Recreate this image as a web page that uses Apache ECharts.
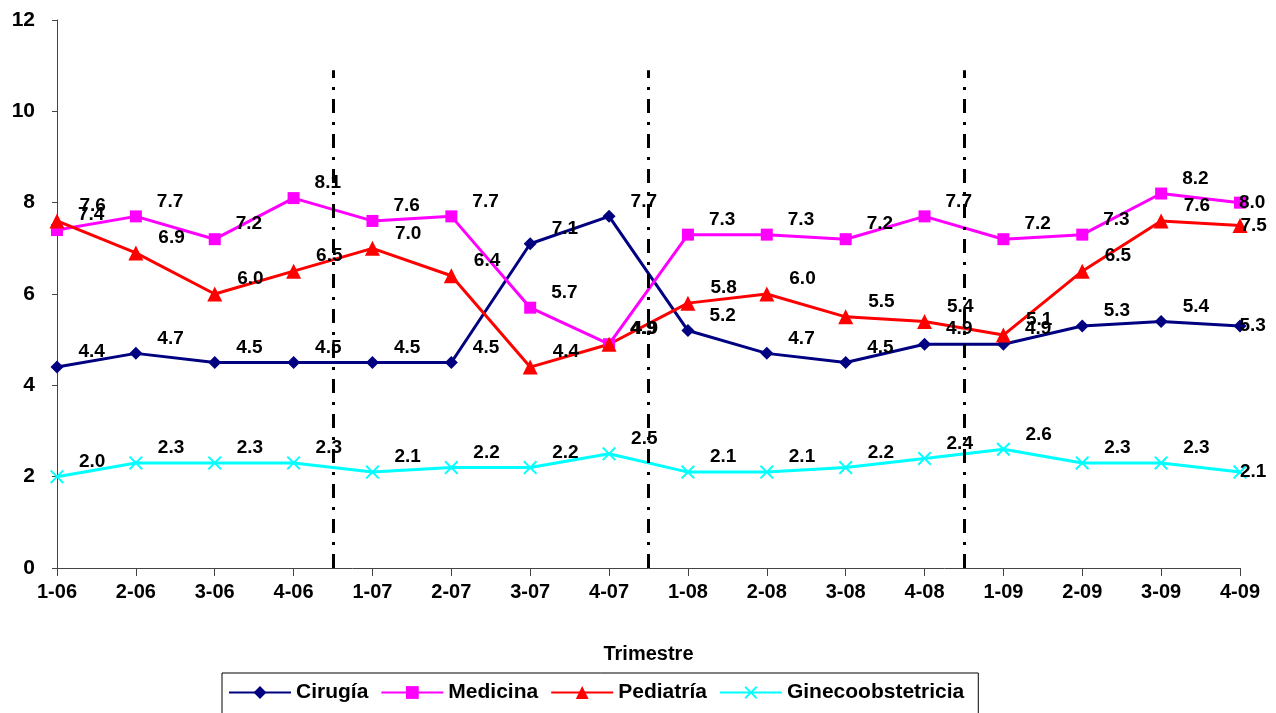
<!DOCTYPE html>
<html>
<head>
<meta charset="utf-8">
<script src="https://cdn.jsdelivr.net/npm/echarts@6/dist/echarts.min.js"></script>
<style>
  html, body { margin: 0; padding: 0; background: #fff; }
  #chart { width: 1276px; height: 713px; }
</style>
</head>
<body>
<div id="chart"></div>
<script>
var trimestres = ['1-06','2-06','3-06','4-06','1-07','2-07','3-07','4-07','1-08','2-08','3-08','4-08','1-09','2-09','3-09','4-09'];
var cirugia   = [4.4, 4.7, 4.5, 4.5, 4.5, 4.5, 7.1, 7.7, 5.2, 4.7, 4.5, 4.9, 4.9, 5.3, 5.4, 5.3];
var medicina  = [7.4, 7.7, 7.2, 8.1, 7.6, 7.7, 5.7, 4.9, 7.3, 7.3, 7.2, 7.7, 7.2, 7.3, 8.2, 8.0];
var pediatria = [7.6, 6.9, 6.0, 6.5, 7.0, 6.4, 4.4, 4.9, 5.8, 6.0, 5.5, 5.4, 5.1, 6.5, 7.6, 7.5];
var gineco    = [2.0, 2.3, 2.3, 2.3, 2.1, 2.2, 2.2, 2.5, 2.1, 2.1, 2.2, 2.4, 2.6, 2.3, 2.3, 2.1];
// year separators (category index scale) and their top value
var separadores = [3.5, 7.5, 11.5];
var separadorTop = 10.9;

var font = '"Liberation Sans", Arial, sans-serif';
var crossIcon = 'path://M0,1 L1,0 L5,4 L9,0 L10,1 L6,5 L10,9 L9,10 L5,6 L1,10 L0,9 L4,5 Z';

function serie(name, data, color, symbol, size){
    return {
        name: name,
        type: 'line',
        data: data,
        symbol: symbol,
        symbolSize: size,
        lineStyle: { color: color, width: 3 },
        itemStyle: { color: color },
        label: {
            show: true,
            position: 'right',
            formatter: function(p){ return p.value.toFixed(1); },
            color: '#000',
            fontFamily: font,
            fontWeight: 'bold',
            fontSize: 19
        },
        labelLayout: function(p){
            // last point: keep the label inside the picture
            if (p.dataIndex === trimestres.length - 1) return { dx: -12, dy: 0 };
            return { dx: 10, dy: -15 };
        },
        z: 3
    };
}

var sepLines = separadores.map(function(x){
    return [{coord: [x, 0]}, {coord: [x, separadorTop]}];
});

var chart = echarts.init(document.getElementById('chart'));
chart.setOption({
    animation: false,
    grid: { left: 57, right: 36, top: 20, bottom: 145 },
    legend: {
        bottom: -12,
        left: 222,
        data: ['Cirugía','Medicina','Pediatría','Ginecoobstetricia'],
        itemWidth: 62,
        itemHeight: 16,
        itemGap: 12,
        padding: [9, 14, 22, 6],
        borderColor: '#000',
        borderWidth: 1,
        textStyle: { fontFamily: font, fontWeight: 'bold', fontSize: 21, color: '#000' }
    },
    xAxis: [
        {
            type: 'category',
            data: trimestres,
            boundaryGap: false,
            name: 'Trimestre',
            nameLocation: 'middle',
            nameGap: 76,
            nameTextStyle: { fontFamily: font, fontWeight: 'bold', fontSize: 20, color: '#000' },
            axisLine: { lineStyle: { color: '#444', width: 1 } },
            axisTick: { show: true, length: 8, alignWithLabel: true, lineStyle: { color: '#444' } },
            axisLabel: { margin: 14, fontFamily: font, fontWeight: 'bold', fontSize: 20, color: '#000' },
            splitLine: { show: false }
        },
        {
            type: 'value',
            min: 0,
            max: trimestres.length - 1,
            show: false
        }
    ],
    yAxis: {
        type: 'value',
        min: 0,
        max: 12,
        interval: 2,
        axisLine: { show: true, lineStyle: { color: '#444', width: 1 } },
        axisTick: { show: true, length: 5, lineStyle: { color: '#444' } },
        axisLabel: { margin: 22, fontFamily: font, fontWeight: 'bold', fontSize: 21, color: '#000' },
        splitLine: { show: false }
    },
    series: [
        serie('Cirugía', cirugia, '#000080', 'diamond', 13),
        serie('Medicina', medicina, '#FF00FF', 'rect', 12),
        serie('Pediatría', pediatria, '#FF0000', 'triangle', 15),
        serie('Ginecoobstetricia', gineco, '#00FFFF', crossIcon, 14),
        {
            type: 'line',
            xAxisIndex: 1,
            data: [],
            silent: true,
            markLine: {
                symbol: 'none',
                silent: true,
                label: { show: false },
                lineStyle: { color: '#000', width: 3, type: [14, 9, 3, 9] },
                data: sepLines
            },
            z: 2
        }
    ]
});
</script>
</body>
</html>
